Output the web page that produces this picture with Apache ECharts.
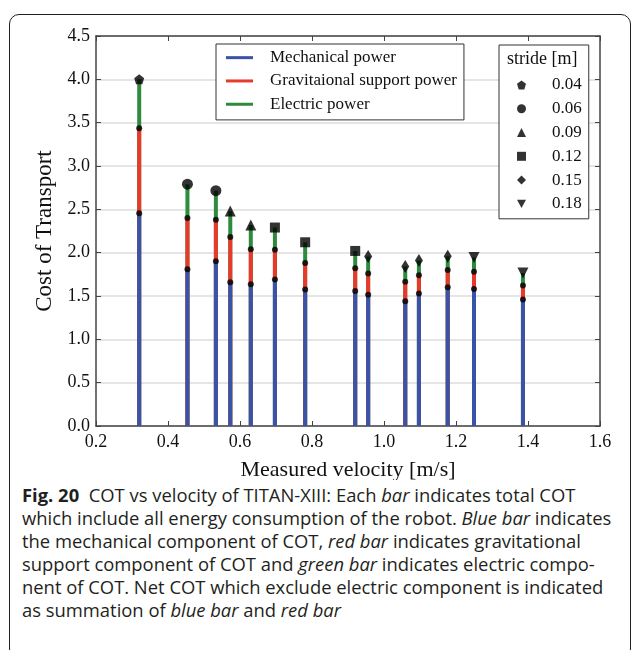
<!DOCTYPE html>
<html><head><meta charset="utf-8">
<script src="https://cdn.jsdelivr.net/npm/echarts@6/dist/echarts.min.js"></script>
<style>
html,body{margin:0;padding:0;background:#fff;width:632px;height:650px;overflow:hidden;position:relative}
#frame{position:absolute;left:9px;top:14px;width:622px;height:645px;border:1.5px solid #231f20;border-radius:10px;box-sizing:border-box}
#chart{position:absolute;left:0;top:0;width:632px;height:480px}
#cap{position:absolute;left:22px;top:483px;font-family:"Open Sans",sans-serif;font-size:18.4px;line-height:23px;color:#231f20;white-space:nowrap;letter-spacing:0}
</style></head>
<body>
<div id="frame"></div>
<div id="chart"></div>
<div id="cap"><b>Fig. 20</b>&nbsp; COT vs velocity of TITAN-XIII: Each <i>bar</i> indicates total COT<br>which include all energy consumption of the robot. <i>Blue bar</i> indicates<br>the mechanical component of COT, <i>red bar</i> indicates gravitational<br>support component of COT and <i>green bar</i> indicates electric compo-<br>nent of COT. Net COT which exclude electric component is indicated<br>as summation of <i>blue bar</i> and <i>red bar</i></div>
<script>
// measured velocity [m/s]
var velocity = [0.320, 0.454, 0.533, 0.573, 0.630, 0.697, 0.781, 0.920, 0.956, 1.059, 1.097, 1.177, 1.250, 1.386];
// COT components
var mechanical    = [2.455, 1.81, 1.90, 1.66, 1.635, 1.69, 1.575, 1.558, 1.515, 1.44, 1.53, 1.60, 1.58, 1.46];
var gravitational = [0.980, 0.59, 0.48, 0.52, 0.405, 0.345, 0.305, 0.262, 0.245, 0.225, 0.21, 0.20, 0.20, 0.16];
var electric      = [0.565, 0.39, 0.335, 0.30, 0.28, 0.255, 0.24, 0.20, 0.195, 0.175, 0.17, 0.16, 0.165, 0.145];
// stride of each measurement (index into strides)
var strides = ["0.04", "0.06", "0.09", "0.12", "0.15", "0.18"];
var strideIndex = [0, 1, 1, 2, 2, 3, 3, 3, 4, 4, 4, 4, 5, 5];
var xTicks = [0.2, 0.4, 0.6, 0.8, 1.0, 1.2, 1.4, 1.6];
var yTicks = [0, 0.5, 1.0, 1.5, 2.0, 2.5, 3.0, 3.5, 4.0, 4.5];

var strideSymbols = [
  'path://M5,0 L10,3.8 L8.1,10 L1.9,10 L0,3.8 Z',
  'circle',
  'triangle',
  'rect',
  'diamond',
  'path://M0,0 L10,0 L5,9 Z'
];
var strideSizes = [10, 11, 11, 10, [8, 13], 11];

var net = velocity.map(function (v, i) { return mechanical[i] + gravitational[i]; });
var total = velocity.map(function (v, i) { return net[i] + electric[i]; });

var serif = 'Liberation Serif';
var chart = echarts.init(document.getElementById('chart'));

var series = [
  { name: 'Electric power', type: 'bar', barWidth: 4, barGap: '-100%', itemStyle: { color: '#2e8b3e' },
    data: velocity.map(function (v, i) { return [v, total[i]]; }) },
  { name: 'Gravitaional support power', type: 'bar', barWidth: 4, barGap: '-100%', itemStyle: { color: '#e8392b' },
    data: velocity.map(function (v, i) { return [v, net[i]]; }) },
  { name: 'Mechanical power', type: 'bar', barWidth: 4, barGap: '-100%', itemStyle: { color: '#3953a8' },
    data: velocity.map(function (v, i) { return [v, mechanical[i]]; }) },
  { name: 'dots', type: 'scatter', symbol: 'circle', symbolSize: 6, itemStyle: { color: '#000' }, z: 5,
    data: velocity.map(function (v, i) { return [v, mechanical[i]]; })
      .concat(velocity.map(function (v, i) { return [v, net[i]]; })) }
];
strides.forEach(function (s, k) {
  var d = [];
  velocity.forEach(function (v, i) { if (strideIndex[i] === k) d.push([v, total[i]]); });
  series.push({ name: s, type: 'scatter', symbol: strideSymbols[k], symbolSize: strideSizes[k],
    itemStyle: { color: '#000' }, z: 6, data: d });
});

var axisLine = { onZero: false, lineStyle: { color: '#444', width: 1.5 } };
var axisTick = { inside: true, length: 5, lineStyle: { color: '#444', width: 1 } };
var labelStyle = { fontFamily: serif, fontSize: 18, color: '#111' };

chart.setOption({
  animation: false,
  grid: { left: 96, right: 32, top: 36, bottom: 54, outerBoundsMode: 'none', containLabel: false },
  legend: [
    { orient: 'vertical', left: 216, top: 44, data: ['Mechanical power', 'Gravitaional support power', 'Electric power'],
      icon: 'rect', itemWidth: 27, itemHeight: 3, itemGap: 0, padding: [2, 7, 4, 10],
      borderColor: '#333', borderWidth: 1, backgroundColor: '#fff', selectedMode: false,
      textStyle: { fontFamily: serif, fontSize: 17, color: '#111', lineHeight: 23.3, padding: [0, 0, 0, 12] } },
    { orient: 'vertical', left: 499, top: 45, data: strides,
      itemWidth: 9, itemHeight: 9, itemGap: 0, padding: [28, 7, 3, 18],
      borderColor: '#333', borderWidth: 1, backgroundColor: '#fff', selectedMode: false,
      textStyle: { fontFamily: serif, fontSize: 17, color: '#111', lineHeight: 23.8, padding: [0, 0, 0, 21] } }
  ],
  graphic: [
    { type: 'text', left: 507, top: 50, z: 100,
      style: { text: 'stride [m]', fontFamily: serif, fontSize: 18, fill: '#111' } }
  ],
  xAxis: [
    { type: 'value', min: xTicks[0], max: xTicks[xTicks.length - 1], interval: 0.2, position: 'bottom',
      axisLine: axisLine, axisTick: axisTick, splitLine: { show: false },
      axisLabel: Object.assign({ margin: 7, formatter: function (v) { return v.toFixed(1); } }, labelStyle),
      name: 'Measured velocity [m/s]', nameLocation: 'middle', nameGap: 33,
      nameTextStyle: { fontFamily: serif, fontSize: 22, color: '#111' } },
    { type: 'value', min: xTicks[0], max: xTicks[xTicks.length - 1], interval: 0.2, position: 'top',
      axisLine: axisLine, axisTick: axisTick, splitLine: { show: false }, axisLabel: { show: false } }
  ],
  yAxis: [
    { type: 'value', min: yTicks[0], max: yTicks[yTicks.length - 1], interval: 0.5, position: 'left',
      axisLine: axisLine, axisTick: axisTick,
      splitLine: { show: true, lineStyle: { color: '#dcdcdc', width: 1.5 } },
      axisLabel: Object.assign({ margin: 6, formatter: function (v) { return v.toFixed(1); } }, labelStyle),
      name: 'Cost of Transport', nameLocation: 'middle', nameGap: 40,
      nameTextStyle: { fontFamily: serif, fontSize: 23, color: '#111' } },
    { type: 'value', min: yTicks[0], max: yTicks[yTicks.length - 1], interval: 0.5, position: 'right',
      axisLine: axisLine, axisTick: axisTick, splitLine: { show: false }, axisLabel: { show: false } }
  ],
  series: series
});
</script>
</body></html>
